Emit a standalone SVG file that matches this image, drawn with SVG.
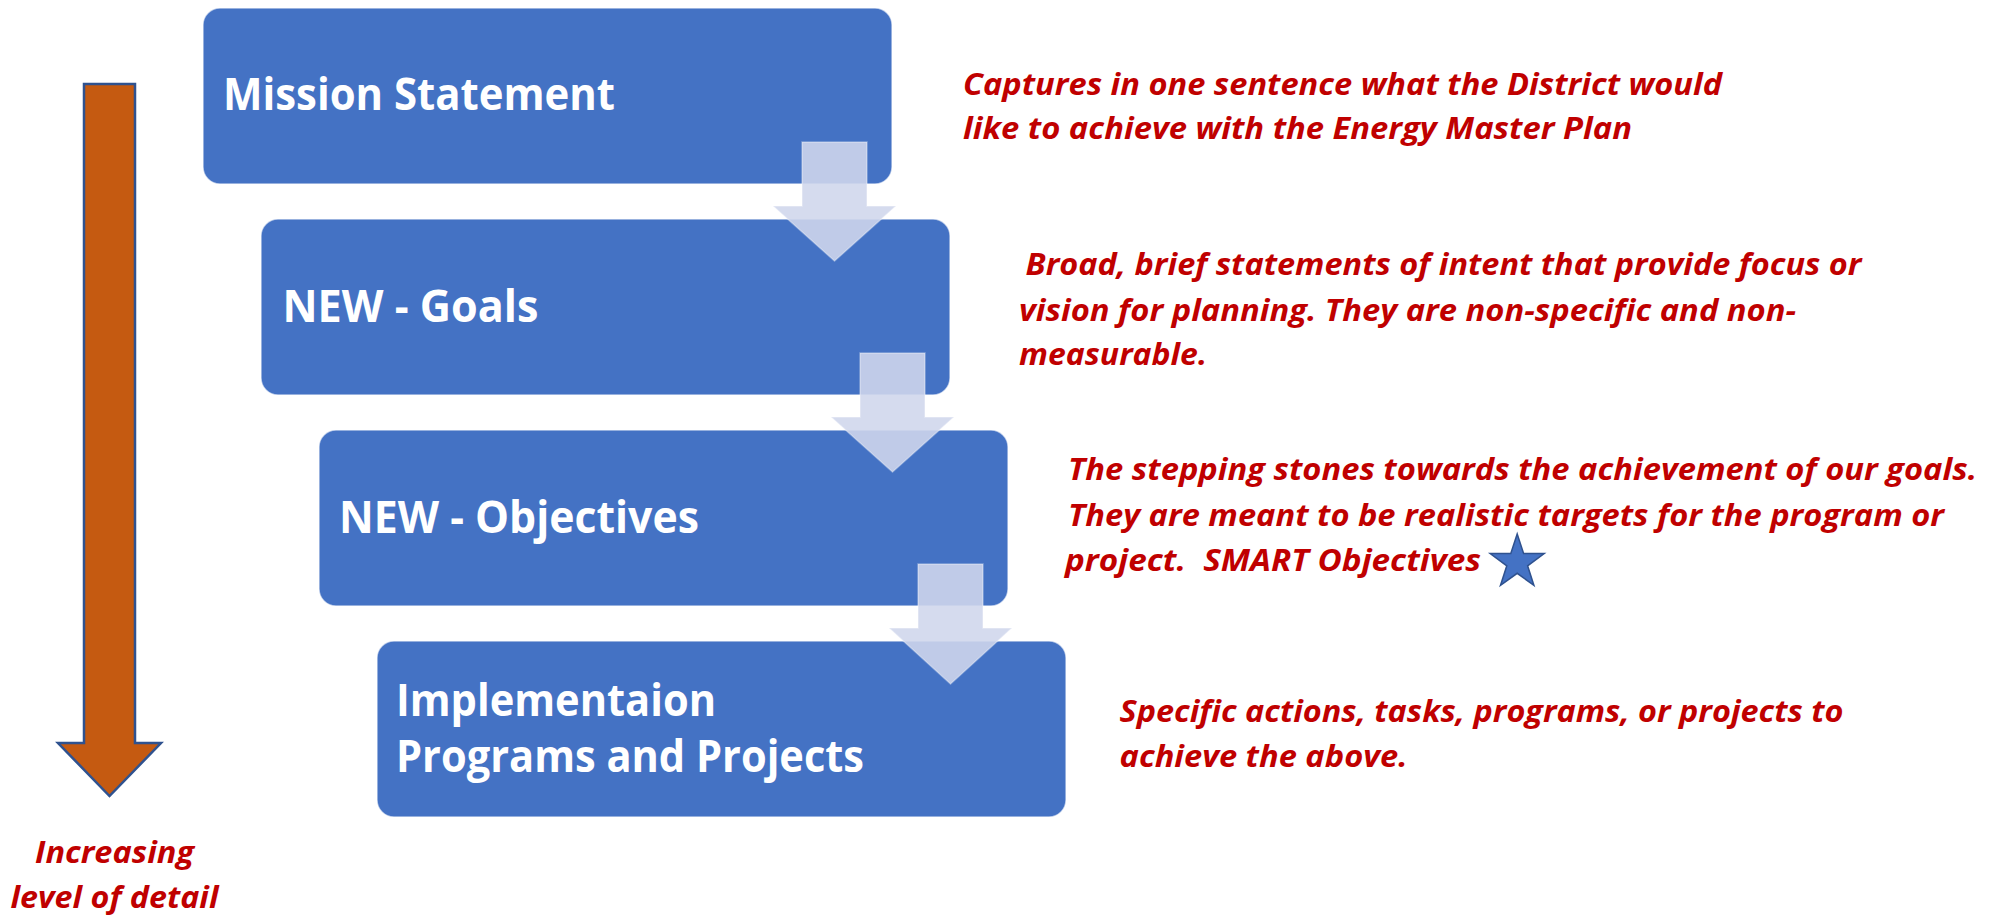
<svg xmlns="http://www.w3.org/2000/svg" width="1998" height="917" viewBox="0 0 1998 917">
<style>
.box{fill:#4472C4;stroke:#FFFFFF;stroke-opacity:0.6;stroke-width:1.5}
.bt{font-family:"Open Sans","Noto Sans","Liberation Sans",sans-serif;font-weight:bold;font-size:45px;fill:#FFFFFF}
.rt{font-family:"Open Sans","Noto Sans","Liberation Sans",sans-serif;font-weight:bold;font-style:italic;font-size:30px;fill:#C00000}
.darr{fill:rgb(208,215,236);fill-opacity:0.89;stroke:#FFFFFF;stroke-opacity:0.35;stroke-width:1.5}
</style>
<rect width="1998" height="917" fill="#FFFFFF"/>
<g id="detail-arrow">
<polygon points="84,84 135,84 135,743 161,743 109.5,796 58,743 84,743" fill="#C55A11" stroke="#2F528F" stroke-width="2.5" stroke-linejoin="miter"/>
</g>
<g id="detail-label">
<text class="rt" x="35" y="863" textLength="159" lengthAdjust="spacingAndGlyphs">Increasing</text>
<text class="rt" x="10.5" y="908" textLength="208" lengthAdjust="spacingAndGlyphs">level of detail</text>
</g>
<g id="node-mission">
<rect class="box" x="203" y="8" width="689" height="176" rx="17"/>
<text class="bt" x="223" y="110" textLength="392" lengthAdjust="spacingAndGlyphs">Mission Statement</text>
</g>
<g id="node-goals">
<rect class="box" x="261" y="219" width="689" height="176" rx="17"/>
<text class="bt" x="282.5" y="322" textLength="256" lengthAdjust="spacingAndGlyphs">NEW - Goals</text>
</g>
<g id="node-objectives">
<rect class="box" x="319" y="430" width="689" height="176" rx="17"/>
<text class="bt" x="339" y="533" textLength="360" lengthAdjust="spacingAndGlyphs">NEW - Objectives</text>
</g>
<g id="node-implementation">
<rect class="box" x="377" y="641" width="689" height="176" rx="17"/>
<text class="bt" x="396" y="716" textLength="320" lengthAdjust="spacingAndGlyphs">Implementaion</text>
<text class="bt" x="396" y="772" textLength="468" lengthAdjust="spacingAndGlyphs">Programs and Projects</text>
</g>
<g id="connectors">
<polygon class="darr" points="802,142 867,142 867,206 896,206 834.5,261 773,206 802,206"/>
<polygon class="darr" points="860,353 925,353 925,417 954,417 892.5,472 831,417 860,417"/>
<polygon class="darr" points="918,564 983,564 983,628 1012,628 950.5,684 889,628 918,628"/>
</g>
<g id="desc-mission">
<text class="rt" x="963" y="95" textLength="759" lengthAdjust="spacingAndGlyphs">Captures in one sentence what the District would</text>
<text class="rt" x="963" y="139" textLength="669" lengthAdjust="spacingAndGlyphs">like to achieve with the Energy Master Plan</text>
</g>
<g id="desc-goals">
<text class="rt" x="1025.5" y="275" textLength="836" lengthAdjust="spacingAndGlyphs">Broad, brief statements of intent that provide focus or</text>
<text class="rt" x="1019" y="321" textLength="777" lengthAdjust="spacingAndGlyphs">vision for planning. They are non-specific and non-</text>
<text class="rt" x="1019" y="365" textLength="188" lengthAdjust="spacingAndGlyphs">measurable.</text>
</g>
<g id="desc-objectives">
<text class="rt" x="1068" y="480" textLength="909" lengthAdjust="spacingAndGlyphs">The stepping stones towards the achievement of our goals.</text>
<text class="rt" x="1068" y="526" textLength="876" lengthAdjust="spacingAndGlyphs">They are meant to be realistic targets for the program or</text>
<text class="rt" x="1065" y="571" textLength="416" lengthAdjust="spacingAndGlyphs" xml:space="preserve">project.  SMART Objectives</text>
<polygon points="1517.2,534 1523.6,553.6 1544.2,553.6 1527.6,565.8 1533.9,585.4 1517.2,573.3 1500.5,585.4 1506.8,565.8 1490.2,553.6 1510.8,553.6" fill="#4472C4" stroke="#2F528F" stroke-width="1.5" stroke-linejoin="miter"/>
</g>
<g id="desc-implementation">
<text class="rt" x="1119.5" y="722" textLength="724" lengthAdjust="spacingAndGlyphs">Specific actions, tasks, programs, or projects to</text>
<text class="rt" x="1119.5" y="767" textLength="288" lengthAdjust="spacingAndGlyphs">achieve the above.</text>
</g>
</svg>
